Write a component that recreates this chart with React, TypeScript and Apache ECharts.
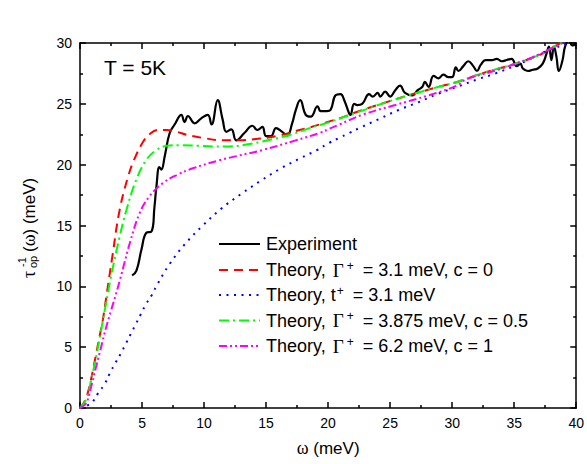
import React, { useEffect, useRef } from "react";
import * as echarts from "echarts";

// ω (meV), τ⁻¹op (meV)
const experiment: number[][] = [
  [4.2, 10.9], [4.55, 11.3], [4.95, 13.0], [5.35, 14.4], [5.76, 14.5], [6.0, 16.5], [6.16, 18.2],
  [6.4, 19.8], [6.56, 19.6], [6.83, 20.7], [7.23, 22.6], [7.63, 23.3], [8.17, 24.1], [8.43, 23.5],
  [8.7, 24.0], [9.24, 23.4], [9.77, 23.8], [10.3, 24.1], [10.6, 23.3], [11.1, 25.3], [11.5, 23.7],
  [11.8, 22.7], [12.2, 22.9], [12.6, 22.0], [13.25, 22.6], [13.9, 23.2], [14.3, 22.85], [14.7, 23.1],
  [15.0, 22.35], [15.4, 22.35], [15.8, 23.0], [16.3, 22.7], [16.7, 22.4], [17.1, 23.4], [17.4, 24.5],
  [17.75, 25.3], [18.2, 24.1], [18.6, 23.95], [19.15, 24.8], [19.4, 24.4], [19.9, 24.4], [20.2, 24.5],
  [20.6, 25.7], [21.0, 25.8], [21.3, 25.3], [21.7, 24.2], [21.8, 24.1], [22.1, 25.0], [22.35, 24.9],
  [22.75, 25.0], [23.3, 25.8], [23.6, 25.6], [24.0, 25.9], [24.2, 25.6], [24.6, 26.0], [25.0, 25.6],
  [25.4, 26.1], [25.8, 26.5], [26.2, 25.9], [26.8, 25.7], [27.2, 26.1], [27.6, 26.4], [27.8, 26.8],
  [28.1, 26.4], [28.5, 27.3], [28.9, 27.1], [29.3, 27.4], [29.7, 27.2], [30.0, 27.2], [30.3, 28.0],
  [30.5, 27.7], [30.9, 28.1], [31.3, 28.5], [31.7, 28.1], [32.0, 27.7], [32.3, 28.2], [32.7, 28.6],
  [33.2, 28.6], [33.6, 28.7], [34.0, 28.5], [34.4, 28.6], [34.8, 28.7], [35.2, 28.1], [35.5, 28.3],
  [35.7, 27.9], [36.1, 27.7], [36.5, 27.8], [36.9, 27.9], [37.3, 28.3], [37.6, 29.1], [37.8, 29.7],
  [38.0, 28.6], [38.2, 29.7], [38.4, 28.9], [38.6, 27.7], [38.9, 28.6], [39.1, 29.7], [39.4, 30.2],
  [39.7, 29.8], [40.0, 29.9],
];

const theoryGamma31: number[][] = [
  [0, 0], [0.4, 0.6], [0.72, 1.6], [1.04, 3.1], [1.31, 4.5], [1.58, 5.9], [1.85, 7.3], [2.1, 9.0],
  [2.6, 12.4], [3.2, 16.3], [3.9, 19.1], [4.4, 20.5], [5.1, 21.9], [5.6, 22.5], [6.3, 22.85],
  [7.0, 22.85], [7.8, 22.7], [8.6, 22.45], [9.9, 22.2], [11.5, 22.0], [12.8, 22.0], [14.5, 22.15],
  [16.1, 22.4], [17.7, 22.85], [18.5, 23.05], [20.1, 23.55], [20.9, 23.8], [22.35, 24.35],
  [24.9, 25.2], [26.5, 25.7], [28.9, 26.4], [30.4, 26.8], [32.4, 27.5], [35.1, 28.3], [37.0, 29.0],
  [38.3, 29.75], [39.0, 30.1],
];

const theoryT31: number[][] = [
  [0, 0], [0.9, 0.4], [1.45, 1.2], [2.0, 2.0], [2.4, 2.85], [2.85, 3.7], [3.3, 4.5], [3.7, 5.3],
  [4.1, 6.1], [4.5, 6.9], [4.9, 7.7], [5.3, 8.5], [5.8, 9.3], [6.2, 10.1], [7.2, 11.8], [8.4, 13.4],
  [9.9, 15.0], [11.4, 16.4], [13.0, 17.6], [14.6, 18.7], [16.2, 19.7], [17.7, 20.5], [19.1, 21.2],
  [20.1, 21.8], [20.9, 22.2], [21.7, 22.6], [22.5, 23.0], [24.1, 23.75], [25.7, 24.5], [27.2, 25.1],
  [28.8, 25.8], [30.4, 26.4], [32.0, 27.0], [33.5, 27.5], [35.9, 28.5], [37.5, 29.3], [38.3, 29.6],
  [39.1, 29.9], [39.6, 30.1],
];

const theoryGamma3875: number[][] = [
  [0, 0], [0.5, 0.7], [0.9, 2.3], [1.3, 4.2], [1.7, 6.4], [2.1, 8.6], [2.5, 10.8], [3.2, 14.1],
  [3.75, 16.3], [4.55, 18.8], [5.35, 20.4], [6.16, 21.2], [7.0, 21.55], [8.0, 21.6], [9.5, 21.55],
  [10.7, 21.5], [12.05, 21.5], [13.4, 21.65], [14.7, 21.9], [17.1, 22.5], [18.5, 23.0], [20.1, 23.5],
  [22.35, 24.3], [24.9, 25.2], [26.5, 25.7], [28.9, 26.4], [30.4, 26.8], [32.4, 27.5], [35.1, 28.3],
  [37.0, 29.0], [38.3, 29.75], [39.0, 30.1],
];

const theoryGamma62: number[][] = [
  [0, 0], [0.5, 0.4], [0.9, 1.75], [1.3, 3.4], [1.7, 5.0], [2.1, 6.6], [2.5, 8.0], [3.05, 9.9],
  [3.5, 11.6], [4.0, 13.5], [4.8, 16.0], [5.6, 17.4], [6.7, 18.5], [7.8, 19.15], [9.1, 19.7],
  [11.2, 20.35], [12.6, 20.7], [14.7, 21.2], [17.4, 22.0], [19.3, 22.6], [20.1, 22.95], [20.9, 23.3],
  [22.75, 24.1], [25.4, 24.9], [28.1, 25.7], [30.4, 26.5], [31.1, 27.0], [33.7, 27.8], [36.4, 28.8],
  [38.3, 29.7], [39.1, 30.1],
];

const xTickInterval = 5;
const yTickInterval = 5;

const SANS = '"Liberation Sans", Arial, sans-serif';
const SERIF = '"Liberation Serif", "Times New Roman", serif';

const legendRows = [
  { key: "exp", color: "#000000", dash: null as number[] | null, y: 244, text: "{n|Experiment}" },
  { key: "g31", color: "#FF0000", dash: [9, 6], y: 270, text: "{n|Theory, }{g|Γ}{s|+}{n| = 3.1 meV, c = 0}" },
  { key: "t31", color: "#0000FF", dash: [2, 5.5], y: 295, text: "{n|Theory, t}{s|+}{n| = 3.1 meV}" },
  { key: "g3875", color: "#00FF00", dash: [10, 4, 2, 4], y: 320.5, text: "{n|Theory, }{g|Γ}{s|+}{n| = 3.875 meV, c = 0.5}" },
  { key: "g62", color: "#FF00FF", dash: [8, 3, 2, 3, 2, 3], y: 346, text: "{n|Theory, }{g|Γ}{s|+}{n| = 6.2 meV, c = 1}" },
];

const richLegend = {
  n: { fontSize: 18, fontFamily: SANS, fill: "#000", color: "#000", lineHeight: 21, verticalAlign: "middle" },
  g: { fontSize: 19, fontFamily: SERIF, fill: "#000", color: "#000", lineHeight: 21, verticalAlign: "middle", padding: [0, 2, 0, 2] },
  s: { fontSize: 12, fontFamily: SANS, fill: "#000", color: "#000", lineHeight: 12, verticalAlign: "top", padding: [0, 4, 0, 1] },
};

export default function App() {
  const ref = useRef<HTMLDivElement>(null);
  useEffect(() => {
    if (!ref.current) return;
    const chart = echarts.init(ref.current, null, { renderer: "svg" });
    const axisLineStyle = { color: "#000", width: 1.5 };
    const baseX = {
      type: "value",
      min: 0,
      max: 40,
      interval: xTickInterval,
      axisLine: { show: true, onZero: false, lineStyle: axisLineStyle },
      axisTick: { show: true, inside: true, length: 6, lineStyle: axisLineStyle },
      minorTick: { show: true, splitNumber: 2, length: 3, lineStyle: axisLineStyle },
      splitLine: { show: false },
      minorSplitLine: { show: false },
    };
    const baseY = {
      type: "value",
      min: 0,
      max: 30,
      interval: yTickInterval,
      axisLine: { show: true, onZero: false, lineStyle: axisLineStyle },
      axisTick: { show: true, inside: true, length: 6, lineStyle: axisLineStyle },
      minorTick: { show: true, splitNumber: 2, length: 3, lineStyle: axisLineStyle },
      splitLine: { show: false },
      minorSplitLine: { show: false },
    };
    const lineSeries = (name: string, data: number[][], color: string, dash: any, smooth: number, z: number, width = 2) => ({
      name,
      type: "line",
      data,
      showSymbol: false,
      symbol: "none",
      smooth,
      clip: true,
      z,
      lineStyle: { color, width, type: dash || "solid" },
      itemStyle: { color },
    });

    const graphic: any[] = [
      {
        type: "text",
        x: 104,
        y: 67,
        style: {
          text: "T = 5K",
          font: `21px ${SANS}`,
          fill: "#000",
          align: "left",
          textAlign: "left",
          verticalAlign: "middle",
          textVerticalAlign: "middle",
        },
      },
      {
        type: "group",
        x: 29,
        y: 278,
        rotation: Math.PI / 2,
        children: [
          {
            type: "text",
            x: 0,
            y: 0,
            style: { text: "τ", font: `18px ${SERIF}`, fill: "#000", align: "left", textAlign: "left", verticalAlign: "middle", textVerticalAlign: "middle" },
          },
          {
            type: "text",
            x: 11,
            y: -7,
            style: { text: "-1", font: `11px ${SANS}`, fill: "#000", align: "left", textAlign: "left", verticalAlign: "middle", textVerticalAlign: "middle" },
          },
          {
            type: "text",
            x: 10,
            y: 4,
            style: { text: "op", font: `11px ${SANS}`, fill: "#000", align: "left", textAlign: "left", verticalAlign: "middle", textVerticalAlign: "middle" },
          },
          {
            type: "text",
            x: 26,
            y: 0,
            style: {
              text: "{p|(}{w|ω}{p|) (meV)}",
              fill: "#000",
              align: "left",
              textAlign: "left",
              verticalAlign: "middle",
              textVerticalAlign: "middle",
              rich: {
                p: { fontSize: 17, fontFamily: SANS, fill: "#000" },
                w: { fontSize: 18, fontFamily: SERIF, fill: "#000" },
              },
            },
          },
        ],
      },
    ];
    legendRows.forEach((r) => {
      graphic.push({
        type: "line",
        shape: { x1: 219, y1: r.y, x2: 260, y2: r.y },
        style: { stroke: r.color, lineWidth: 2, lineDash: r.dash || undefined },
      });
      graphic.push({
        type: "text",
        x: 266,
        y: r.y,
        style: {
          text: r.text,
          fill: "#000",
          align: "left",
          textAlign: "left",
          verticalAlign: "middle",
          textVerticalAlign: "middle",
          rich: richLegend,
        },
      });
    });

    chart.setOption({
      animation: false,
      backgroundColor: "#fff",
      grid: { left: 80, right: 9, top: 43, bottom: 56, containLabel: false },
      xAxis: [
        {
          ...baseX,
          position: "bottom",
          axisLabel: { show: true, color: "#000", fontSize: 14, fontFamily: SANS, margin: 8 },
          name: "{w|ω}{m| (meV)}",
          nameLocation: "middle",
          nameGap: 31,
          nameTextStyle: {
            color: "#000",
            fontSize: 17,
            fontFamily: SANS,
            rich: {
              w: { fontSize: 18, fontFamily: SERIF, color: "#000" },
              m: { fontSize: 17, fontFamily: SANS, color: "#000" },
            },
          },
        },
        { ...baseX, position: "top", axisLabel: { show: false } },
      ],
      yAxis: [
        {
          ...baseY,
          position: "left",
          axisLabel: { show: true, color: "#000", fontSize: 14, fontFamily: SANS, margin: 8 },
        },
        { ...baseY, position: "right", axisLabel: { show: false } },
      ],
      series: [
        lineSeries("Experiment", experiment, "#000000", "solid", 0.45, 2, 2.2),
        lineSeries("Theory, Γ+ = 3.1 meV, c = 0", theoryGamma31, "#FF0000", [9, 6], 0.4, 3),
        lineSeries("Theory, t+ = 3.1 meV", theoryT31, "#0000FF", [2, 5.5], 0.4, 3),
        lineSeries("Theory, Γ+ = 3.875 meV, c = 0.5", theoryGamma3875, "#00FF00", [10, 4, 2, 4], 0.4, 3),
        lineSeries("Theory, Γ+ = 6.2 meV, c = 1", theoryGamma62, "#FF00FF", [8, 3, 2, 3, 2, 3], 0.4, 3),
      ],
      graphic,
    });
    return () => chart.dispose();
  }, []);
  return <div ref={ref} style={{ position: "fixed", left: 0, top: 0, width: 587, height: 464 }} />;
}
